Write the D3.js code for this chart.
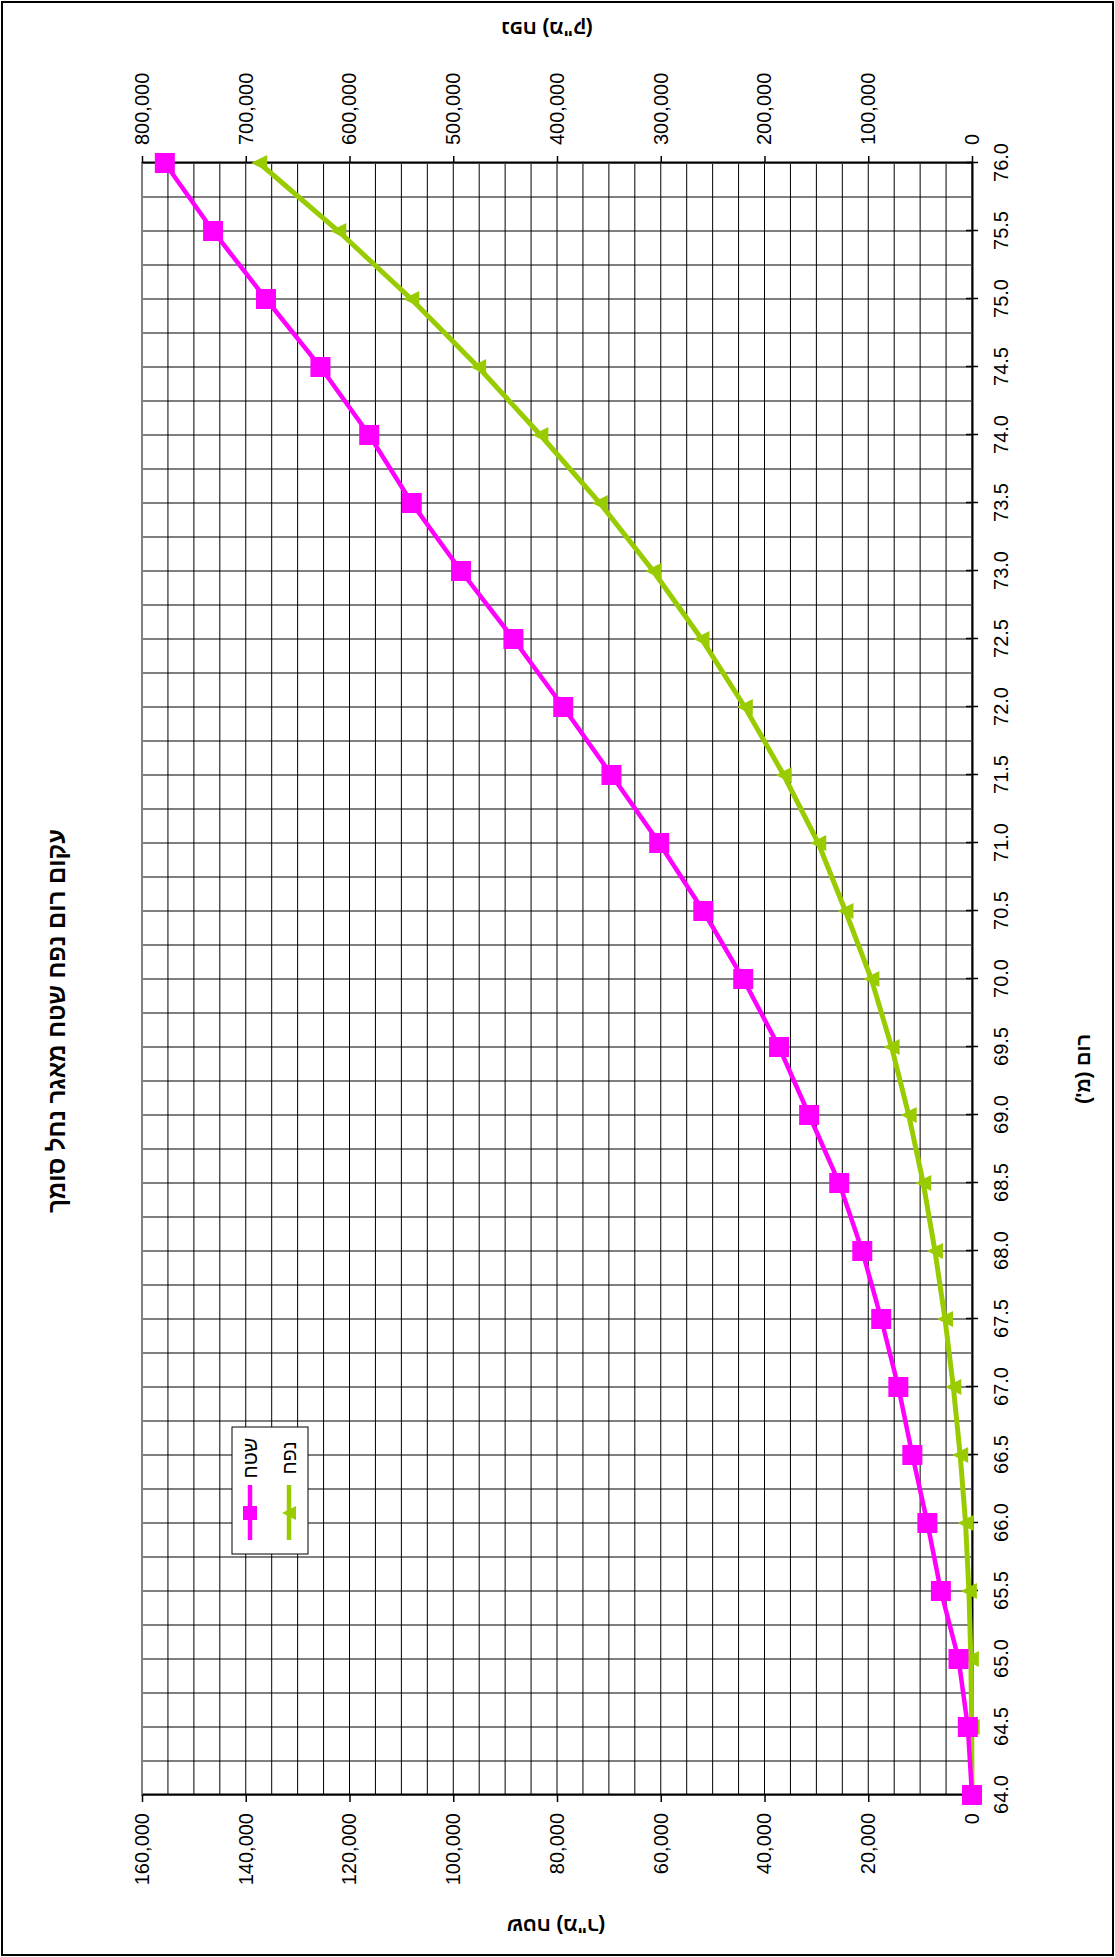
<!DOCTYPE html>
<html>
<head>
<meta charset="utf-8">
<script src="https://cdn.jsdelivr.net/npm/d3@7"></script>
<style>
  body { margin: 0; background: #fff; }
  svg { display: block; }
</style>
</head>
<body>
<div id="chart"></div>
<script>
// elevation (m) and the two curves
var elevation = [64.0, 64.5, 65.0, 65.5, 66.0, 66.5, 67.0, 67.5, 68.0, 68.5, 69.0, 69.5,
                 70.0, 70.5, 71.0, 71.5, 72.0, 72.5, 73.0, 73.5, 74.0, 74.5, 75.0, 75.5, 76.0];
var area = [0, 800, 2600, 6000, 8600, 11500, 14200, 17500, 21150, 25600, 31400, 37200,
            44100, 51800, 60300, 69500, 78800, 88400, 98500, 108000, 116200, 125600, 136100, 146300, 155600];
var volume = [0, 300, 1100, 3000, 6200, 11400, 18000, 26000, 35700, 47000, 61000, 77500,
              97000, 122000, 148200, 181500, 219000, 260700, 307300, 358700, 416000, 476000, 540500, 610800, 687000];

var areaTicks = [0, 20000, 40000, 60000, 80000, 100000, 120000, 140000, 160000];
var volumeTicks = [0, 100000, 200000, 300000, 400000, 500000, 600000, 700000, 800000];

var chartTitle = "עקום רום נפח שטח מאגר נחל סומך";
var xTitle = "רום (מ')";
var areaTitle = "שטח  (מ\"ר)";
var volumeTitle = "נפח  (מ\"ק)";
var seriesNames = ["שטח", "נפח"];

var W = 1115, H = 1957;
var font = "'Liberation Sans', Arial, sans-serif";

var svg = d3.select("#chart").append("svg")
    .attr("width", W)
    .attr("height", H);

// the chart is laid out normally (H wide, W tall) and then turned a quarter to the left
var g = svg.append("g")
    .attr("transform", "translate(0," + H + ") rotate(-90)");

// outer frame
g.append("rect")
    .attr("x", 2).attr("y", 2)
    .attr("width", H - 4).attr("height", W - 4)
    .attr("fill", "#fff")
    .attr("stroke", "#000")
    .attr("stroke-width", 2);

var x = d3.scaleLinear().domain([64, 76]).range([162, 1794]);
var yA = d3.scaleLinear().domain([0, 160000]).range([972, 142]);
var yV = d3.scaleLinear().domain([0, 800000]).range([972, 142]);

// grid
g.append("g").selectAll("line")
    .data(d3.range(0, 160001, 5000))
    .enter().append("line")
    .attr("x1", x(64)).attr("x2", x(76))
    .attr("y1", function(d) { return yA(d); })
    .attr("y2", function(d) { return yA(d); })
    .attr("stroke", "#000")
    .attr("stroke-width", 1);

g.append("g").selectAll("line")
    .data(d3.range(0, 49).map(function(i) { return 64 + i * 0.25; }))
    .enter().append("line")
    .attr("x1", function(d) { return x(d); })
    .attr("x2", function(d) { return x(d); })
    .attr("y1", yA(0)).attr("y2", yA(160000))
    .attr("stroke", "#000")
    .attr("stroke-width", 1);

// plot border (gray) 
g.append("rect")
    .attr("x", x(64)).attr("y", yA(160000))
    .attr("width", x(76) - x(64)).attr("height", yA(0) - yA(160000))
    .attr("fill", "none")
    .attr("stroke", "#808080")
    .attr("stroke-width", 2);

// axes
function styleAxis(sel) {
    sel.attr("font-family", font).attr("font-size", 20);
    sel.select(".domain").attr("stroke", "#000").attr("stroke-width", 2);
    sel.selectAll(".tick line").attr("stroke", "#000").attr("stroke-width", 1.5);
    sel.selectAll(".tick text").attr("fill", "#000");
}

var xAxis = g.append("g")
    .attr("transform", "translate(0," + yA(0) + ")")
    .call(d3.axisBottom(x).tickValues(elevation).tickFormat(d3.format(".1f"))
        .tickSizeInner(6).tickSizeOuter(0).tickPadding(16));
styleAxis(xAxis);
xAxis.selectAll(".tick line").attr("y1", -6).attr("y2", 6);

var aAxis = g.append("g")
    .attr("transform", "translate(" + x(64) + ",0)")
    .call(d3.axisLeft(yA).tickValues(areaTicks).tickFormat(d3.format(","))
        .tickSizeInner(7).tickSizeOuter(0).tickPadding(11));
styleAxis(aAxis);

var vAxis = g.append("g")
    .attr("transform", "translate(" + x(76) + ",0)")
    .call(d3.axisRight(yV).tickValues(volumeTicks).tickFormat(d3.format(","))
        .tickSizeInner(7).tickSizeOuter(0).tickPadding(11));
styleAxis(vAxis);

// series
var magenta = "#ff00ff", green = "#99cc00";

var areaLine = d3.line()
    .x(function(d, i) { return x(elevation[i]); })
    .y(function(d) { return yA(d); });
var volLine = d3.line()
    .x(function(d, i) { return x(elevation[i]); })
    .y(function(d) { return yV(d); });

g.append("path").datum(volume)
    .attr("d", volLine)
    .attr("fill", "none").attr("stroke", green).attr("stroke-width", 5);

g.append("g").selectAll("path")
    .data(volume)
    .enter().append("path")
    .attr("d", "M0,-8L8,8L-8,8Z")
    .attr("transform", function(d, i) { return "translate(" + x(elevation[i]) + "," + yV(d) + ")"; })
    .attr("fill", green);

g.append("path").datum(area)
    .attr("d", areaLine)
    .attr("fill", "none").attr("stroke", magenta).attr("stroke-width", 4.5);

g.append("g").selectAll("rect")
    .data(area)
    .enter().append("rect")
    .attr("x", function(d, i) { return x(elevation[i]) - 10; })
    .attr("y", function(d) { return yA(d) - 10; })
    .attr("width", 20).attr("height", 20)
    .attr("fill", magenta);

// titles
g.append("text")
    .attr("x", 936).attr("y", 56)
    .attr("text-anchor", "middle")
    .attr("dominant-baseline", "central")
    .attr("direction", "rtl")
    .attr("font-family", font).attr("font-size", 24).attr("font-weight", "bold")
    .text(chartTitle);

g.append("text")
    .attr("x", 888).attr("y", 1083)
    .attr("text-anchor", "middle")
    .attr("dominant-baseline", "central")
    .attr("direction", "rtl")
    .attr("font-family", font).attr("font-size", 20).attr("font-weight", "bold")
    .text(xTitle);

g.append("text")
    .attr("transform", "translate(31,556) rotate(-90)")
    .attr("text-anchor", "middle")
    .attr("dominant-baseline", "central")
    .attr("direction", "rtl")
    .attr("font-family", font).attr("font-size", 20).attr("font-weight", "bold")
    .text(areaTitle);

g.append("text")
    .attr("transform", "translate(1928,547) rotate(-90)")
    .attr("text-anchor", "middle")
    .attr("dominant-baseline", "central")
    .attr("direction", "rtl")
    .attr("font-family", font).attr("font-size", 20).attr("font-weight", "bold")
    .text(volumeTitle);

// legend
var legend = g.append("g");
legend.append("rect")
    .attr("x", 403).attr("y", 232)
    .attr("width", 127).attr("height", 76)
    .attr("fill", "#fff").attr("stroke", "#000").attr("stroke-width", 1);

var rows = [250, 289];
var colors = [magenta, green];
seriesNames.forEach(function(name, i) {
    var row = legend.append("g").attr("transform", "translate(0," + rows[i] + ")");
    row.append("line")
        .attr("x1", 417).attr("x2", 472)
        .attr("stroke", colors[i]).attr("stroke-width", 4.5);
    if (i === 0) {
        row.append("rect").attr("x", 437).attr("y", -7).attr("width", 14).attr("height", 14).attr("fill", magenta);
    } else {
        row.append("path").attr("d", "M444,-7L451,7L437,7Z").attr("fill", green);
    }
    row.append("text")
        .attr("x", 499).attr("y", 0)
        .attr("text-anchor", "middle")
        .attr("dominant-baseline", "central")
        .attr("direction", "rtl")
        .attr("font-family", font).attr("font-size", 20)
        .text(name);
});
</script>
</body>
</html>
